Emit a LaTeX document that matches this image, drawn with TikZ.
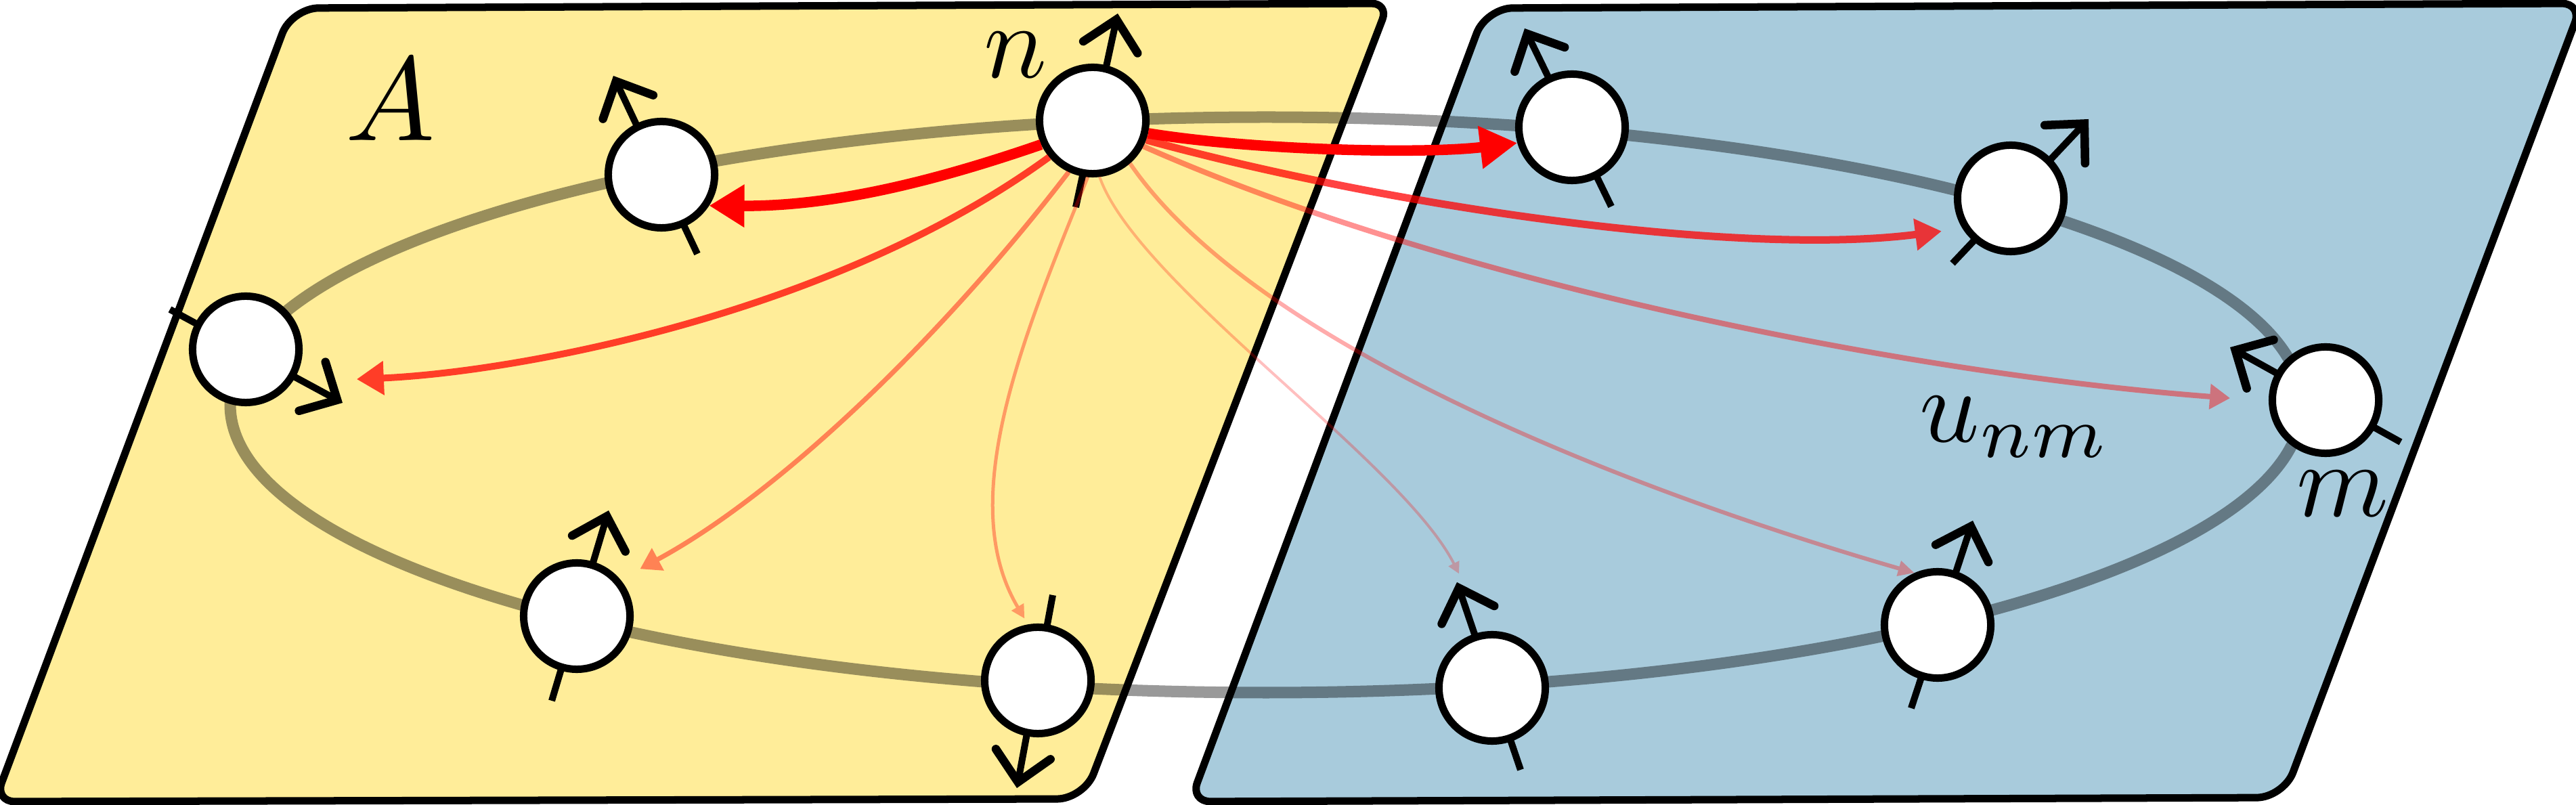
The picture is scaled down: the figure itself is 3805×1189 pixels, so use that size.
\documentclass[tikz,border=0pt]{standalone}
\usepackage{amsmath}
\usepackage{tikz}
\usetikzlibrary{arrows.meta}

\definecolor{panelyellow}{RGB}{255,237,153}
\definecolor{panelblue}{RGB}{168,203,220}

\tikzset{
    panel/.style={draw=black, line width=0.11cm, line join=round},
    ring/.style={draw=black, opacity=0.4, line width=0.17cm},
    spin/.style={line width=0.1cm, -{Straight Barb[length=0.42cm, width=0.82cm, line width=0.125cm, line cap=round, line join=miter]}},
    site/.style={circle, draw=black, fill=white, line width=0.11cm, inner sep=0pt, minimum size=1.57cm},
    label/.style={inner sep=0pt, scale=4.4},
    link/.style n args={4}{red, line width=#1cm, shorten >=#4cm, -{Triangle[length=#2cm, width=#3cm]}}
}

\begin{document}
\begin{tikzpicture}[x=0.01cm, y=-0.01cm]
    \useasboundingbox (0,0) rectangle (3805,1189);

    % Two panels
    \fill[white] (0,0) rectangle (3805,1189);
    \draw[panel, fill=panelyellow] [rounded corners=0.4cm] (431,12) [rounded corners=0.25cm] -- (2051,5) [rounded corners=0.4cm] -- (1601,1180) [rounded corners=0.3cm] -- (-8,1184) [rounded corners=0.4cm] -- cycle;
    \draw[panel, fill=panelblue] [rounded corners=0.4cm] (2195,12) [rounded corners=0.3cm] -- (3814,5) [rounded corners=0.4cm] -- (3373,1178) [rounded corners=0.3cm] -- (1758,1184) [rounded corners=0.4cm] -- cycle;

    % Ring through the sites
    \draw[ring] (1870,598) ellipse [x radius=1530, y radius=425];

    % Ends of the spins
    \coordinate (ntail) at (1589,306); \coordinate (ntip) at (1651,20);
    \coordinate (aonetail) at (1030,375); \coordinate (aonetip) at (906,112);
    \coordinate (atwotail) at (251,457); \coordinate (atwotip) at (506,595);
    \coordinate (athreetail) at (815,1035); \coordinate (athreetip) at (899,754);
    \coordinate (afourtail) at (1555,879); \coordinate (afourtip) at (1502,1164);
    \coordinate (bonetail) at (2380,305); \coordinate (bonetip) at (2252,42);
    \coordinate (btwotail) at (2884,389); \coordinate (btwotip) at (3085,176);
    \coordinate (mtail) at (3546,653); \coordinate (mtip) at (3294,513);
    \coordinate (bthreetail) at (2823,1046); \coordinate (bthreetip) at (2914,769);
    \coordinate (bfourtail) at (2246,1137); \coordinate (bfourtip) at (2152,860);

    % Spins
    \draw[spin] (ntail) -- (ntip);
    \draw[spin] (aonetail) -- (aonetip);
    \draw[spin] (atwotail) -- (atwotip);
    \draw[spin] (athreetail) -- (athreetip);
    \draw[spin] (afourtail) -- (afourtip);
    \draw[spin] (bonetail) -- (bonetip);
    \draw[spin] (btwotail) -- (btwotip);
    \draw[spin] (mtail) -- (mtip);
    \draw[spin] (bthreetail) -- (bthreetip);
    \draw[spin] (bfourtail) -- (bfourtip);

    % Sites
    \node[site] (n) at (1614,178) {};
    \node[site] (aone) at (977,258) {};
    \node[site] (atwo) at (363,516) {};
    \node[site] (athree) at (852,910) {};
    \node[site] (afour) at (1533,1005) {};
    \node[site] (bone) at (2322,188) {};
    \node[site] (btwo) at (2970,293) {};
    \node[site] (m) at (3435,591) {};
    \node[site] (bthree) at (2862,923) {};
    \node[site] (bfour) at (2204,1016) {};

    % Couplings from n, fading with distance
    \draw[link={0.155}{0.52}{0.6}{0}] (n.205) .. controls (1380,268) and (1230,305) .. (aone.-33);
    \draw[link={0.155}{0.55}{0.6}{0}] (n.-13) .. controls (1850,222) and (2100,228) .. (bone.196);
    \scoped[transparency group, opacity=0.74] \draw[link={0.11}{0.39}{0.45}{0.31}] (n.-20) .. controls (2050,305) and (2568,380) .. (btwo.212);
    \scoped[transparency group, opacity=0.43] \draw[link={0.08}{0.3}{0.36}{0.57}] (n.-27) .. controls (2130,412) and (2800,550) .. (m.181);
    \scoped[transparency group, opacity=0.74] \draw[link={0.1}{0.4}{0.48}{0.95}] (n.-140) .. controls (1230,465) and (760,550) .. (atwo.-35);
    \scoped[transparency group, opacity=0.45] \draw[link={0.07}{0.3}{0.36}{0.33}] (n.-115) .. controls (1390,500) and (1150,730) .. (athree.40);
    \scoped[transparency group, opacity=0.35] \draw[link={0.05}{0.2}{0.2}{0.1}] (n.-95) .. controls (1510,500) and (1410,740) .. (afour.100);
    \scoped[transparency group, opacity=0.33] \draw[link={0.06}{0.24}{0.22}{0}] (n.-49) .. controls (1860,520) and (2443,735) .. (bthree.114);
    \scoped[transparency group, opacity=0.25] \draw[link={0.04}{0.17}{0.17}{0.95}] (n.-83) .. controls (1680,420) and (2070,680) .. (bfour.94);

    % Labels
    \node[label, scale=1.14] (labelA) at (577,147) {$A$};
    \node[label] (labeln) at (1500,81) {$n$};
    \node[label] (labelu) at (2977,631) {$u_{nm}$};
    \node[label] (labelm) at (3460,729) {$m$};
\end{tikzpicture}
\end{document}
